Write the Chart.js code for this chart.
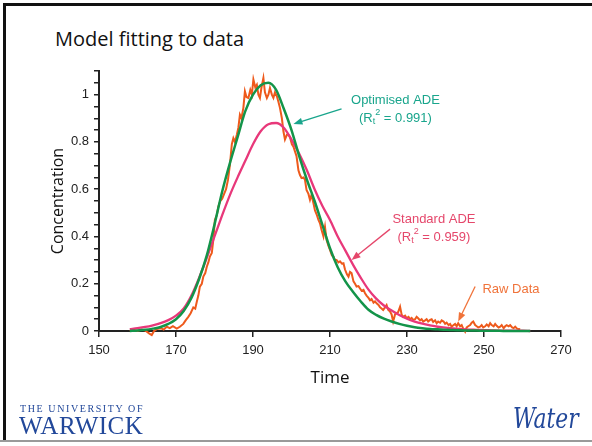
<!DOCTYPE html>
<html>
<head>
<meta charset="utf-8">
<script src="https://cdn.jsdelivr.net/npm/chart.js@4"></script>
<style>
  html, body { margin: 0; padding: 0; background: #fff; }
  body { width: 592px; height: 446px; position: relative; overflow: hidden; }
  #frame { position: absolute; left: 3px; top: 3px; width: 592px; height: 436px;
           border-left: 3px solid #111; border-top: 3px solid #111; }
  #bottomLine { position: absolute; left: 0; top: 440px; width: 592px; height: 2px; background: #9a9a9a; }
  #title { position: absolute; left: 55px; top: 25px; font-family: "Open Sans", sans-serif;
           font-size: 20px; color: #111; white-space: nowrap; }
  #chartBox { position: absolute; left: 0; top: 0; width: 592px; height: 446px; }
  #logoSmall { position: absolute; left: 20px; top: 403px; font-family: "Liberation Serif", serif;
               font-size: 10px; letter-spacing: 1.6px; color: #22489a; white-space: nowrap; }
  #logoBig { position: absolute; left: 19px; top: 412px; font-family: "Liberation Serif", serif;
             font-size: 25px; letter-spacing: 0.5px; color: #22489a; white-space: nowrap; }
  #water { position: absolute; left: 513px; top: 402px; font-family: "DejaVu Serif", serif;
           font-style: italic; font-size: 28px; color: #22489a; transform: scaleX(0.78);
           transform-origin: left top; white-space: nowrap; }
</style>
</head>
<body>
<div id="frame"></div>
<div id="bottomLine"></div>
<div id="title">Model fitting to data</div>
<div id="chartBox"><canvas id="fitChart" width="592" height="446"></canvas></div>
<div id="logoSmall">THE UNIVERSITY OF</div>
<div id="logoBig">WARWICK</div>
<div id="water">Water</div>
<script>
/* Data */

const modelTime = [
  158, 160, 162, 164, 166, 168, 170, 172, 174, 176, 178, 180, 182, 184, 186, 188, 190, 192,
  194, 196, 198, 200, 202, 204, 206, 208, 210, 212, 214, 216, 218, 220, 222, 224, 226, 228,
  230, 232, 234, 236, 238, 240, 242, 244, 246, 248, 250, 252, 254, 256, 258, 260, 262
];

const optimisedAde = [
  0.0, 0.002, 0.005, 0.01, 0.017, 0.03, 0.05, 0.085, 0.14, 0.22, 0.32, 0.45, 0.59, 0.71, 0.82, 0.93, 1.0, 1.04,
  1.05, 1.02, 0.94, 0.85, 0.74, 0.64, 0.55, 0.45, 0.35, 0.27, 0.21, 0.165, 0.125, 0.09, 0.068, 0.052, 0.04, 0.03,
  0.022, 0.016, 0.012, 0.009, 0.007, 0.005, 0.004, 0.003, 0.002, 0.002, 0.001, 0.001, 0.001, 0, 0, 0, 0
];

const standardAde = [
  0.008, 0.012, 0.017, 0.024, 0.033, 0.046, 0.065, 0.095, 0.15, 0.225, 0.31, 0.40, 0.49, 0.575, 0.65, 0.72, 0.79, 0.845,
  0.875, 0.88, 0.86, 0.81, 0.75, 0.68, 0.60, 0.53, 0.47, 0.40, 0.34, 0.28, 0.225, 0.175, 0.137, 0.108, 0.087, 0.068,
  0.052, 0.04, 0.031, 0.024, 0.018, 0.014, 0.011, 0.008, 0.006, 0.005, 0.004, 0.003, 0.002, 0.002, 0.001, 0.001, 0
];

const rawTime = [
  158, 159, 160, 161, 162, 163, 163.7, 164.3, 165, 166, 166.8, 167.6, 168.4, 169.2, 170.2, 171, 171.9, 172.5,
  173.2, 173.8, 174.5, 175, 175.4, 175.8, 176.2, 176.7, 177.1, 177.6, 178, 178.4, 178.8, 179.3, 179.7, 180.1,
  180.6, 181, 181.5, 182, 182.5, 183, 183.5, 184, 184.5, 184.9, 185.3, 185.8, 186.2, 186.6, 187, 187.5, 187.9,
  188.3, 188.8, 189.3, 189.7, 190.1, 190.6, 191, 191.4, 191.8, 192.2, 192.7, 193.1, 193.6, 194, 194.4, 194.9,
  195.3, 195.7, 196.2, 196.6, 197, 197.5, 197.9, 198.3, 198.8, 199.2, 199.6, 200.1, 200.5, 200.9, 201.3, 201.8,
  202.2, 202.6, 203.1, 203.5, 203.9, 204.4, 204.8, 205.2, 205.7, 206.1, 206.6, 207, 207.4, 207.8, 208.3, 208.7,
  209.1, 209.6, 210, 210.5, 210.9, 211.3, 211.7, 212.2, 212.6, 213.1, 213.5, 213.9, 214.4, 214.8, 215.2, 215.6,
  216.1, 216.5, 216.9, 217.4, 217.8, 218.2, 218.7, 219.1, 219.5, 220, 220.4, 220.8, 221.3, 221.7, 222.1, 222.6,
  223, 223.4, 223.8, 224.3, 224.7, 225.1, 225.6, 226, 226.4, 226.9, 227.3, 227.7, 228.2, 228.6, 229, 229.5,
  229.9, 230.4, 230.8, 231.2, 231.6, 232.1, 232.5, 232.9, 233.4, 233.8, 234.2, 234.7, 235.1, 235.5, 236, 236.4,
  236.8, 237.3, 237.7, 238.1, 238.6, 239, 239.5, 239.9, 240.3, 240.8, 241.2, 241.6, 242.1, 242.5, 242.9, 243.3,
  243.8, 244.2, 244.6, 245.1, 245.5, 245.9, 246.4, 246.8, 247.2, 247.7, 248.1, 248.5, 249, 249.4, 249.8, 250.3,
  250.7, 251.2, 251.6, 252, 252.5, 252.9, 253.3, 253.8, 254.2, 254.6, 255.1, 255.5, 255.9, 256.4, 256.8, 257.3,
  257.7, 258.1, 258.6, 259, 259.4
];

const rawConc = [
  0.0, 0.005, 0.0, 0.006, 0.002, -0.01, -0.017, 0.0, 0.008, 0.012, 0.006, 0.018, 0.012, 0.02, 0.01, 0.018, 0.03, 0.045,
  0.06, 0.075, 0.1, 0.095, 0.124, 0.15, 0.188, 0.2, 0.23, 0.245, 0.272, 0.29, 0.315, 0.33, 0.386, 0.47,
  0.49, 0.527, 0.55, 0.56, 0.58, 0.6, 0.64, 0.703, 0.79, 0.816, 0.8, 0.83, 0.86, 0.915, 0.9, 0.944, 1.014,
  0.99, 0.986, 1.02, 1.0, 1.064, 1.03, 1.042, 1.0, 0.986, 1.03, 1.07, 1.01, 0.986, 1.0, 1.028, 1.0,
  0.986, 1.01, 0.993, 0.97, 0.944, 0.90, 0.845, 0.81, 0.83, 0.83, 0.82, 0.79, 0.78, 0.76, 0.74, 0.68,
  0.66, 0.647, 0.65, 0.64, 0.597, 0.58, 0.555, 0.576, 0.54, 0.51, 0.49, 0.47, 0.456, 0.428, 0.40, 0.44,
  0.386, 0.36, 0.343, 0.32, 0.315, 0.30, 0.30, 0.29, 0.295, 0.285, 0.287, 0.26, 0.24, 0.23, 0.25, 0.245,
  0.21, 0.2, 0.188, 0.19, 0.18, 0.17, 0.174, 0.16, 0.15, 0.14, 0.13, 0.135, 0.12, 0.125, 0.117, 0.11,
  0.1, 0.095, 0.089, 0.1, 0.11, 0.09, 0.082, 0.07, 0.04, 0.07, 0.075, 0.08, 0.103, 0.07, 0.06, 0.065,
  0.055, 0.06, 0.05, 0.055, 0.047, 0.05, 0.06, 0.054, 0.045, 0.05, 0.04, 0.045, 0.05, 0.04, 0.047, 0.05,
  0.038, 0.045, 0.033, 0.04, 0.035, 0.045, 0.04, 0.03, 0.035, 0.025, 0.03, 0.018, 0.025, 0.03, 0.02, 0.033,
  0.02, 0.025, 0.01, -0.003, 0.015, 0.02, 0.025, 0.035, 0.04, 0.025, 0.02, 0.015, 0.018, 0.025, 0.015, 0.02,
  0.028, 0.02, 0.033, 0.025, 0.02, 0.03, 0.022, 0.015, 0.018, 0.025, 0.012, 0.02, 0.025, 0.02, 0.025, 0.015,
  0.012, 0.018, 0.01, 0.008, 0.007
];

const timeTicks = { min: 150, max: 270, step: 20 };
const concTicks = { min: 0, max: 1.1, step: 0.05, labelStep: 0.2 };

/* Colours */

const rawColor = "#ee5a1c";
const optimisedColor = "#139449";
const standardColor = "#e8387a";

/* Annotations (placed in data units) */

const annotations = [
  { text: "Optimised ADE", fit: "0.991", color: "#19a58c", at: [227, 0.975],
    from: [213, 0.94], to: [200.5, 0.876] },
  { text: "Standard ADE", fit: "0.959", color: "#e5476b", at: [237, 0.47],
    from: [225.6, 0.431], to: [215.6, 0.30] },
  { text: "Raw Data", fit: null, color: "#f0733a", at: [257, 0.178],
    from: [247.7, 0.188], to: [243.3, 0.04] }
];

function drawArrow(ctx, x1, y1, x2, y2, color) {
  const angle = Math.atan2(y2 - y1, x2 - x1);
  const headLen = 9;
  const headHalf = 3.5;
  ctx.strokeStyle = color;
  ctx.fillStyle = color;
  ctx.lineWidth = 1.3;
  ctx.beginPath();
  ctx.moveTo(x1, y1);
  ctx.lineTo(x2 - Math.cos(angle) * headLen * 0.8, y2 - Math.sin(angle) * headLen * 0.8);
  ctx.stroke();
  ctx.beginPath();
  ctx.moveTo(x2, y2);
  ctx.lineTo(x2 - Math.cos(angle) * headLen - Math.sin(angle) * headHalf,
             y2 - Math.sin(angle) * headLen + Math.cos(angle) * headHalf);
  ctx.lineTo(x2 - Math.cos(angle) * headLen + Math.sin(angle) * headHalf,
             y2 - Math.sin(angle) * headLen - Math.cos(angle) * headHalf);
  ctx.closePath();
  ctx.fill();
}

function drawFitLine(ctx, cx, y, value, color) {
  const big = "13px 'Liberation Sans', Arial, sans-serif";
  const small = "9px 'Liberation Sans', Arial, sans-serif";
  const parts = [
    { t: "(R", font: big, dy: 0 },
    { t: "t", font: small, dy: 3 },
    { t: "2", font: small, dy: -6 },
    { t: " = " + value + ")", font: big, dy: 0 }
  ];
  let total = 0;
  parts.forEach(p => { ctx.font = p.font; p.w = ctx.measureText(p.t).width; total += p.w; });
  let x = cx - total / 2;
  ctx.fillStyle = color;
  ctx.textAlign = "left";
  ctx.textBaseline = "middle";
  parts.forEach(p => {
    ctx.font = p.font;
    ctx.fillText(p.t, x, y + p.dy);
    x += p.w;
  });
}

const annotationPlugin = {
  id: "fitNotes",
  afterDatasetsDraw(chart) {
    const { ctx, scales: { x, y } } = chart;
    ctx.save();
    annotations.forEach(note => {
      drawArrow(ctx,
        x.getPixelForValue(note.from[0]), y.getPixelForValue(note.from[1]),
        x.getPixelForValue(note.to[0]), y.getPixelForValue(note.to[1]),
        note.color);
      const cx = x.getPixelForValue(note.at[0]);
      const cy = y.getPixelForValue(note.at[1]);
      ctx.font = "13px 'Liberation Sans', Arial, sans-serif";
      ctx.fillStyle = note.color;
      ctx.textAlign = "center";
      ctx.textBaseline = "middle";
      ctx.fillText(note.text, cx, cy);
      if (note.fit) {
        drawFitLine(ctx, cx, cy + 18, note.fit, note.color);
      }
    });
    ctx.restore();
  }
};

/* Chart */

const tickFont = { family: "'Liberation Sans', Arial, sans-serif", size: 13 };
const titleFont = { family: "'Open Sans', sans-serif", size: 16 };

new Chart(document.querySelector("#fitChart"), {
  type: "line",
  data: {
    datasets: [
      {
        label: "Optimised ADE",
        data: modelTime.map((t, i) => ({ x: t, y: optimisedAde[i] })),
        borderColor: optimisedColor,
        borderWidth: 2.5,
        pointRadius: 0,
        cubicInterpolationMode: "monotone",
        clip: 6
      },
      {
        label: "Standard ADE",
        data: modelTime.map((t, i) => ({ x: t, y: standardAde[i] })),
        borderColor: standardColor,
        borderWidth: 2.3,
        pointRadius: 0,
        cubicInterpolationMode: "monotone",
        clip: 6
      },
      {
        label: "Raw Data",
        data: rawTime.map((t, i) => ({ x: t, y: rawConc[i] })),
        borderColor: rawColor,
        borderWidth: 2,
        pointRadius: 0,
        tension: 0,
        clip: 6
      }
    ]
  },
  options: {
    responsive: false,
    animation: false,
    devicePixelRatio: 1,
    layout: {
      padding: { left: 40, top: 71, right: 31, bottom: 55 }
    },
    plugins: {
      legend: { display: false },
      tooltip: { enabled: false }
    },
    scales: {
      x: {
        type: "linear",
        min: timeTicks.min,
        max: timeTicks.max,
        afterFit: scale => { scale.height = 60; },
        ticks: {
          stepSize: timeTicks.step,
          color: "#222",
          font: tickFont,
          padding: 6,
          maxRotation: 0,
          autoSkip: false
        },
        grid: {
          drawOnChartArea: false,
          drawTicks: true,
          tickLength: 6,
          color: "#222",
          lineWidth: 1.5
        },
        border: { color: "#222", width: 2 },
        title: {
          display: true,
          text: "Time",
          color: "#111",
          font: { ...titleFont, size: 17 },
          padding: { top: 0, bottom: 3 }
        }
      },
      y: {
        min: concTicks.min,
        max: concTicks.max,
        afterFit: scale => { scale.width = 59; },
        ticks: {
          stepSize: concTicks.step,
          autoSkip: false,
          color: "#222",
          font: tickFont,
          padding: 5,
          callback: value => {
            const n = value / concTicks.labelStep;
            if (Math.abs(n - Math.round(n)) > 1e-6) return "";
            return String(Math.round(value * 10) / 10);
          }
        },
        grid: {
          drawOnChartArea: false,
          drawTicks: true,
          tickLength: 5,
          color: "#222",
          lineWidth: 1.5
        },
        border: { color: "#222", width: 2 },
        title: {
          display: true,
          text: "Concentration",
          color: "#111",
          font: titleFont,
          padding: { top: 9, bottom: 0 }
        }
      }
    }
  },
  plugins: [annotationPlugin]
});
</script>
</body>
</html>
